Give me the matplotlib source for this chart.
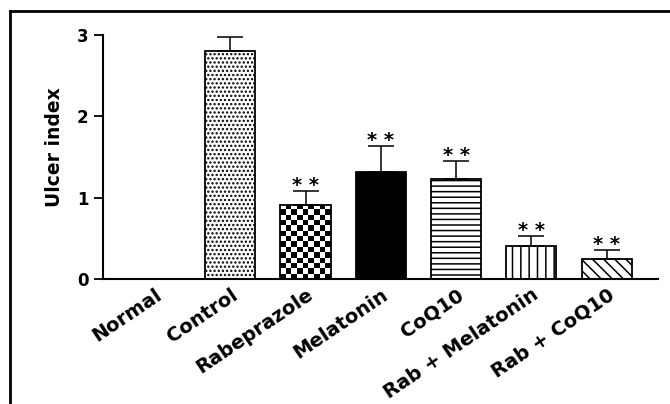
import matplotlib
matplotlib.use("Agg")
import matplotlib.pyplot as plt
import numpy as np

groups = ["Normal", "Control", "Rabeprazole", "Melatonin", "CoQ10",
          "Rab + Melatonin", "Rab + CoQ10"]
ulcer_index = [0.0, 2.80, 0.91, 1.32, 1.23, 0.41, 0.25]
ulcer_sem = [0.0, 0.17, 0.17, 0.31, 0.22, 0.12, 0.11]
significance = ["", "", "* *", "* *", "* *", "* *", "* *"]

plt.rcParams["font.family"] = "DejaVu Sans"
plt.rcParams["font.weight"] = "bold"
plt.rcParams["hatch.linewidth"] = 1.1

fig = plt.figure(figsize=(6.70, 4.04), dpi=100)
ax = fig.add_axes([0.1537, 0.3082, 0.982 - 0.1537, 0.9146 - 0.3082])

x = np.arange(len(groups))
width = 0.665
hatches = [None, "....", None, None, "---", "||", "\\\\\\"]
faces = ["white", "white", "none", "black", "white", "white", "white"]

bars = ax.bar(x, ulcer_index, width, color=faces, edgecolor="black",
              linewidth=1.3, zorder=2)
for b, h in zip(bars, hatches):
    if h:
        b.set_hatch(h)

# checkerboard fill for Rabeprazole (no built-in hatch for it)
rb = bars[2]
ncols, nrows = 9, 14
checker = (np.add.outer(np.arange(nrows), np.arange(ncols)) % 2).astype(float)
im = ax.imshow(checker, cmap="gray_r", interpolation="nearest", aspect="auto",
               extent=(rb.get_x(), rb.get_x() + rb.get_width(), 0, rb.get_height()),
               zorder=1)
im.set_clip_path(rb)

# upper error bars only
has_err = [i for i, e in enumerate(ulcer_sem) if e > 0]
ax.errorbar(x[has_err], np.array(ulcer_index)[has_err],
            yerr=[np.zeros(len(has_err)), np.array(ulcer_sem)[has_err]],
            fmt="none", ecolor="black", elinewidth=1.1, capsize=9.5,
            capthick=1.1, zorder=3)

for xi, m, e, s in zip(x, ulcer_index, ulcer_sem, significance):
    if s:
        ax.annotate(s, (xi, m + e), xytext=(0, 0), textcoords="offset points",
                    ha="center", va="baseline", fontsize=14, fontweight="bold")

ax.set_xlim(-0.69, 6.68)
ax.set_ylim(0, 3)
ax.set_yticks([0, 1, 2, 3])
ax.set_xticks(x)
ax.set_xticklabels(groups, rotation=34, ha="right", rotation_mode="anchor",
                   fontsize=14, fontweight="bold")
ax.tick_params(axis="x", length=0, pad=4)
ax.tick_params(axis="y", length=6.5, width=1.3, pad=4, labelsize=12)
for lbl in ax.get_yticklabels():
    lbl.set_fontweight("bold")

ax.set_ylabel("Ulcer index", fontsize=13.5, fontweight="bold")
ax.yaxis.set_label_coords(-0.07, 0.54)

for side in ["top", "right"]:
    ax.spines[side].set_visible(False)
for side in ["left", "bottom"]:
    ax.spines[side].set_linewidth(1.5)

# frame around the figure (cropped on the right and bottom in the original)
fig.add_artist(plt.Line2D([0.0142, 0.0142], [0.0, 0.9725], transform=fig.transFigure,
                          color="black", linewidth=2.0))
fig.add_artist(plt.Line2D([0.0142, 1.0], [0.9725, 0.9725], transform=fig.transFigure,
                          color="black", linewidth=2.0))

fig.savefig("out.png", dpi=100)
